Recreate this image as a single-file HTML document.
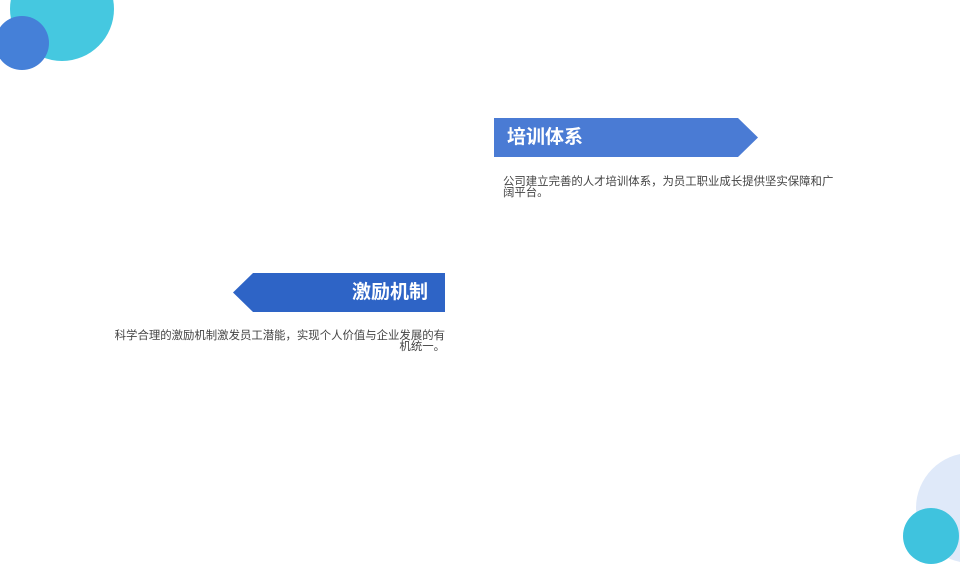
<!DOCTYPE html>
<html><head><meta charset="utf-8"><style>
body{margin:0;width:960px;height:540px;position:relative;overflow:hidden;background:#fff;font-family:"Liberation Sans","Noto Sans CJK SC",sans-serif}
.c{position:absolute;border-radius:50%}
.t{position:absolute;font-size:11.4px;line-height:11px;color:#444;white-space:nowrap}
.h{position:absolute;color:#fff;font-weight:bold;font-size:19px;line-height:39px}
</style></head><body>
<div class="c" style="left:10px;top:-43px;width:104px;height:104px;background:#45c8e0"></div>
<div class="c" style="left:-5px;top:16px;width:54px;height:54px;background:#4580d8"></div>
<div class="c" style="left:916px;top:453px;width:110px;height:110px;background:#dfe9f9"></div>
<div class="c" style="left:903px;top:508px;width:56px;height:56px;background:#3fc3de"></div>
<svg style="position:absolute;left:0;top:0" width="960" height="540">
<polygon points="494,118 738,118 758,137.5 738,157 494,157" fill="#4a7bd4"/>
<polygon points="445,273 253,273 233,292.5 253,312 445,312" fill="#2e64c6"/>
</svg>
<div class="h" style="left:507px;top:118px">培训体系</div>
<div class="h" style="left:300px;width:128px;text-align:right;top:273px">激励机制</div>
<div class="t" style="left:503px;top:177px;width:344px">公司建立完善的人才培训体系，为员工职业成长提供坚实保障和广<br>阔平台。</div>
<div class="t" style="left:105px;top:331px;width:340px;text-align:right">科学合理的激励机制激发员工潜能，实现个人价值与企业发展的有<br>机统一。</div>
</body></html>
